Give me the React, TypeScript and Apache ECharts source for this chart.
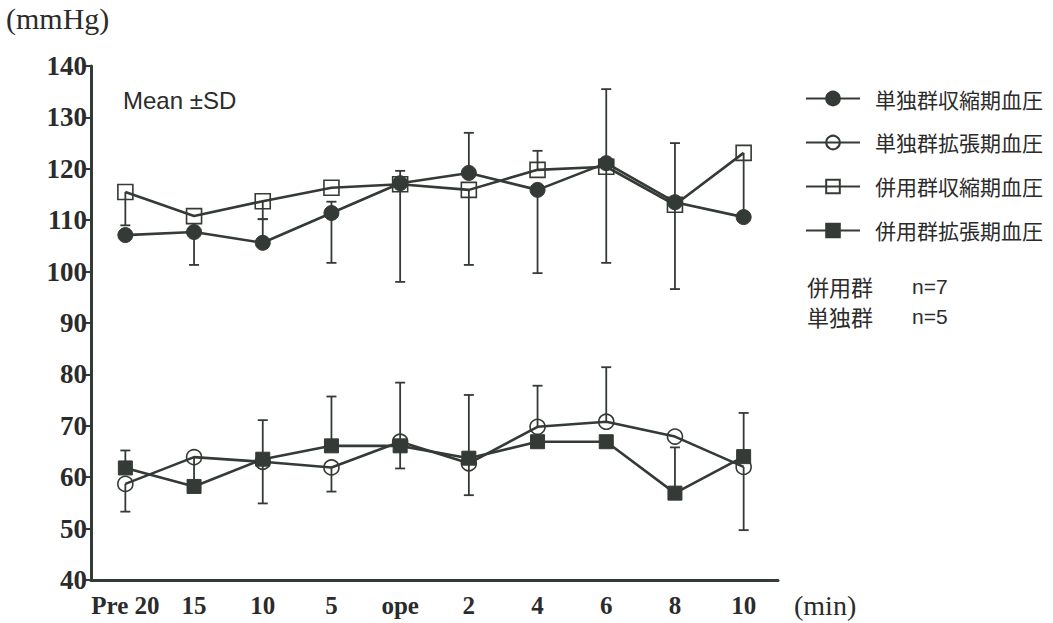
import React, { useEffect, useRef } from "react";
import * as echarts from "echarts";

const categories = ["Pre 20", "15", "10", "5", "ope", "2", "4", "6", "8", "10"];
const yTicks = { min: 40, max: 140, interval: 10 };

const seriesNames = ["単独群収縮期血圧", "単独群拡張期血圧", "併用群収縮期血圧", "併用群拡張期血圧"];

// means
const soloSys = [107.1, 107.7, 105.6, 111.4, 117.2, 119.2, 115.9, 121.1, 113.5, 110.6];
const soloDia = [58.7, 63.9, 63.0, 61.9, 66.9, 62.7, 69.8, 70.8, 67.9, 62.0];
const comboSys = [115.5, 110.8, 113.7, 116.3, 117.0, 115.9, 119.8, 120.4, 113.0, 123.1];
const comboDia = [61.8, 58.2, 63.5, 66.1, 66.1, 63.7, 66.9, 66.9, 56.9, 64.0];

// SD drawn upward / downward (0 = not drawn)
const soloSysUp = [0, 0, 4.6, 2.2, 0, 7.8, 0, 14.4, 11.5, 0];
const soloSysDown = [0, 6.4, 0, 9.7, 19.2, 0, 16.2, 0, 0, 0];
const comboSysUp = [0, 0, 0, 0, 2.6, 0, 3.7, 0, 0, 0];
const comboSysDown = [6.5, 0, 3.5, 0, 0, 14.6, 0, 18.7, 16.4, 12.5];
const soloDiaUp = [0, 0, 0, 0, 11.5, 0, 8.0, 10.6, 0, 0];
const soloDiaDown = [5.4, 5.7, 8.1, 4.7, 0, 6.2, 0, 0, 0, 12.3];
const comboDiaUp = [3.4, 0, 7.6, 9.6, 0, 12.3, 0, 0, 8.9, 8.5];
const comboDiaDown = [0, 0, 0, 0, 4.4, 0, 0, 0, 0, 0];

const INK = "#343a35";
const TEXT = "#2b2b2b";

function errData(mean: number[], up: number[], down: number[]) {
  return mean.map((v, i) => [i, v, up[i], down[i]]);
}

function errSeries(name: string, mean: number[], up: number[], down: number[]) {
  return {
    type: "custom",
    name,
    z: 1,
    data: errData(mean, up, down),
    encode: { x: 0, y: 1 },
    renderItem: (params: any, api: any) => {
      const x = api.value(0);
      const m = api.value(1);
      const u = api.value(2);
      const d = api.value(3);
      const top = api.coord([x, m + u]);
      const bot = api.coord([x, m - d]);
      const cap = 5;
      const style = { stroke: INK, lineWidth: 1.8 };
      const children: any[] = [
        { type: "line", shape: { x1: top[0], y1: top[1], x2: bot[0], y2: bot[1] }, style },
      ];
      if (u > 0) children.push({ type: "line", shape: { x1: top[0] - cap, y1: top[1], x2: top[0] + cap, y2: top[1] }, style });
      if (d > 0) children.push({ type: "line", shape: { x1: bot[0] - cap, y1: bot[1], x2: bot[0] + cap, y2: bot[1] }, style });
      return { type: "group", children };
    },
  };
}

function lineSeries(name: string, data: number[], symbol: string, filled: boolean, size: number) {
  return {
    type: "line",
    name,
    z: 3,
    data,
    symbol,
    symbolSize: size,
    showAllSymbol: true,
    lineStyle: { color: INK, width: 2.6 },
    itemStyle: filled
      ? { color: INK, borderColor: INK, borderWidth: 1 }
      : { color: "rgba(255,255,255,0)", borderColor: INK, borderWidth: 1.6 },
  };
}

export default function App() {
  const ref = useRef<HTMLDivElement>(null);
  useEffect(() => {
    if (!ref.current) return;
    const chart = echarts.init(ref.current, null, { renderer: "svg" });
    const serif = "'Liberation Serif', 'DejaVu Serif', serif";
    const cjk = "'Noto Sans CJK JP', 'Noto Sans', sans-serif";
    const sans = "'Liberation Sans', Arial, sans-serif";
    chart.setOption({
      animation: false,
      backgroundColor: "#ffffff",
      grid: { left: 91, right: 275, top: 66, bottom: 43, containLabel: false },
      xAxis: {
        type: "category",
        data: categories,
        boundaryGap: true,
        axisLine: { show: true, lineStyle: { color: INK, width: 3 } },
        axisTick: { show: false },
        axisLabel: {
          margin: 13,
          color: TEXT,
          fontFamily: serif,
          fontWeight: "bold",
          fontSize: 25,
          interval: 0,
        },
        splitLine: { show: false },
      },
      yAxis: {
        type: "value",
        min: yTicks.min,
        max: yTicks.max,
        interval: yTicks.interval,
        axisLine: { show: true, lineStyle: { color: INK, width: 3 } },
        axisTick: { show: true, inside: false, length: 6, lineStyle: { color: INK, width: 2 } },
        axisLabel: {
          margin: 4,
          color: TEXT,
          fontFamily: serif,
          fontWeight: "bold",
          fontSize: 27,
        },
        splitLine: { show: false },
      },
      legend: {
        data: seriesNames,
        orient: "vertical",
        left: 800,
        top: 83,
        itemWidth: 54,
        itemHeight: 17,
        itemGap: 23,
        textStyle: { fontFamily: cjk, fontSize: 21, color: TEXT, padding: [0, 0, 0, 10] },
        selectedMode: false,
      },
      graphic: [
        { type: "text", left: 6, top: 3, style: { text: "(mmHg)", font: `30px ${serif}`, fill: TEXT } },
        { type: "text", left: 794, top: 591, style: { text: "(min)", font: `28px ${serif}`, fill: TEXT } },
        { type: "text", left: 123, top: 88, style: { text: "Mean ±SD", font: `24px ${sans}`, fill: TEXT } },
        { type: "text", left: 807, top: 275, style: { text: "併用群", font: `22px ${cjk}`, fill: TEXT } },
        { type: "text", left: 912, top: 276, style: { text: "n=7", font: `21px ${sans}`, fill: TEXT } },
        { type: "text", left: 807, top: 305, style: { text: "単独群", font: `22px ${cjk}`, fill: TEXT } },
        { type: "text", left: 912, top: 306, style: { text: "n=5", font: `21px ${sans}`, fill: TEXT } },
      ],
      series: [
        errSeries("sd1", soloSys, soloSysUp, soloSysDown),
        errSeries("sd2", soloDia, soloDiaUp, soloDiaDown),
        errSeries("sd3", comboSys, comboSysUp, comboSysDown),
        errSeries("sd4", comboDia, comboDiaUp, comboDiaDown),
        lineSeries(seriesNames[0], soloSys, "circle", true, 15),
        lineSeries(seriesNames[1], soloDia, "circle", false, 15),
        lineSeries(seriesNames[2], comboSys, "rect", false, 15),
        lineSeries(seriesNames[3], comboDia, "rect", true, 14),
      ],
    });
    return () => chart.dispose();
  }, []);
  return (
    <div
      ref={ref}
      style={{ position: "fixed", left: 0, top: 0, width: 1053, height: 623, background: "#fff" }}
    />
  );
}
